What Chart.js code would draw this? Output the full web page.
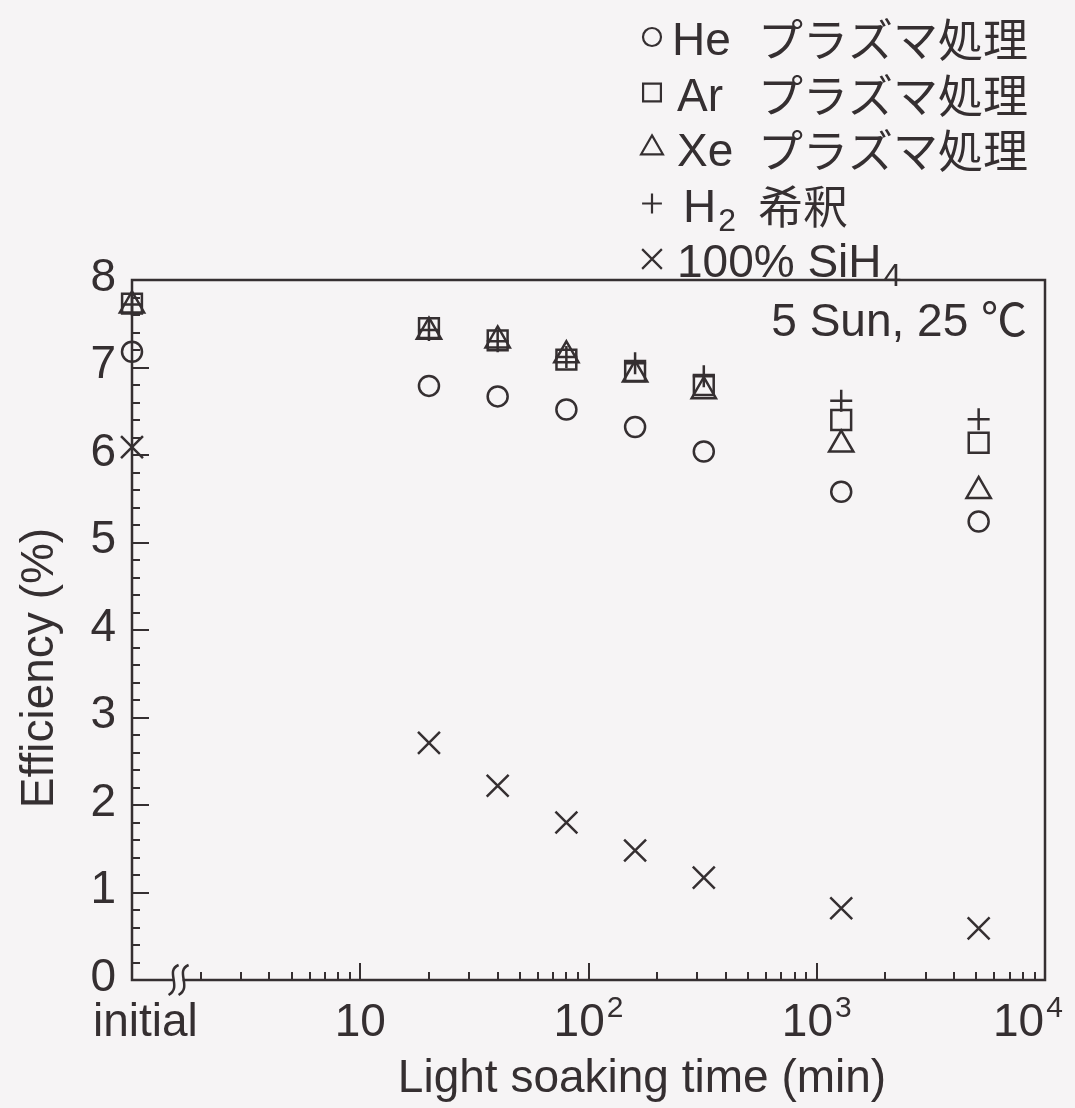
<!DOCTYPE html>
<html>
<head>
<meta charset="utf-8">
<script src="https://cdn.jsdelivr.net/npm/chart.js@4/dist/chart.umd.min.js"></script>
<style>
  html, body { margin: 0; padding: 0; background: #f6f4f5; }
  canvas { display: block; }
</style>
</head>
<body>
<canvas id="chart" width="1075" height="1108"></canvas>
<script>
//Data
// light soaking time (min); 1 stands for the "initial" point at the left end of the axis
const soakTimes = [1, 20, 40, 80, 160, 320, 1280, 5120];

const heEff   = [7.18, 6.79, 6.67, 6.52, 6.32, 6.04, 5.58, 5.24];
const arEff   = [7.73, 7.45, 7.31, 7.09, 6.96, 6.80, 6.40, 6.14];
const xeEff   = [7.71, 7.41, 7.31, 7.14, 6.92, 6.73, 6.12, 5.59];
const h2Eff   = [7.72, 7.43, 7.30, 7.12, 7.05, 6.90, 6.62, 6.41];
const sih4Eff = [6.09, 2.71, 2.22, 1.80, 1.48, 1.17, 0.82, 0.59];

const yTickLabels = ['0', '1', '2', '3', '4', '5', '6', '7', '8'];
const xTickValues = [1, 10, 100, 1000, 10000];
const xTickLabels = [['initial', ''], ['10', ''], ['10', '2'], ['10', '3'], ['10', '4']];

// legend rows: latin part, subscript, japanese part
const seriesNames = [
    ['He', '', 'プラズマ処理'],
    ['Ar', '', 'プラズマ処理'],
    ['Xe', '', 'プラズマ処理'],
    ['H', '2', '希釈'],
    ['100% SiH', '4', '']
];
const seriesStyles = ['circle', 'rect', 'triangle', 'cross', 'crossRot'];
const seriesRadius = [10, 14, 14, 11, 15.5];
const seriesValues = [heEff, arEff, xeEff, h2Eff, sih4Eff];

const conditionText = '5 Sun, 25 \u2103';
const xTitle = 'Light soaking time (min)';
const yTitle = 'Efficiency (%)';

//Style
const ink = '#352f31';
const paper = '#f6f4f5';
const latinFont = '"Liberation Sans", Arial, sans-serif';
const cjkFont = '"Noto Sans CJK JP", sans-serif';

/**
 * Draws a small marker for the legend, same shapes as the points.
 */
function drawMarker(ctx, style, r, x, y) {
    ctx.beginPath();
    if (style === 'circle') {
        ctx.arc(x, y, r, 0, Math.PI * 2);
    } else if (style === 'rect') {
        let s = r * Math.SQRT1_2;
        ctx.rect(x - s, y - s, s * 2, s * 2);
    } else if (style === 'triangle') {
        ctx.moveTo(x, y - r);
        ctx.lineTo(x + r * Math.sin(Math.PI * 2 / 3), y + r / 2);
        ctx.lineTo(x - r * Math.sin(Math.PI * 2 / 3), y + r / 2);
        ctx.closePath();
    } else if (style === 'cross') {
        ctx.moveTo(x - r, y); ctx.lineTo(x + r, y);
        ctx.moveTo(x, y - r); ctx.lineTo(x, y + r);
    } else {
        let s = r * Math.SQRT1_2;
        ctx.moveTo(x - s, y - s); ctx.lineTo(x + s, y + s);
        ctx.moveTo(x - s, y + s); ctx.lineTo(x + s, y - s);
    }
    ctx.stroke();
}

const paperPlugin = {
    id: 'paper',
    beforeDraw(chart) {
        const ctx = chart.ctx;
        ctx.save();
        ctx.fillStyle = paper;
        ctx.fillRect(0, 0, chart.width, chart.height);
        ctx.restore();
    }
};

const axesPlugin = {
    id: 'axesPlugin',
    afterDraw(chart) {
        const ctx = chart.ctx;
        const area = chart.chartArea;
        const xs = chart.scales.x;
        const ys = chart.scales.y;
        ctx.save();
        ctx.strokeStyle = ink;
        ctx.fillStyle = ink;

        // frame
        ctx.lineWidth = 2.5;
        ctx.strokeRect(area.left, area.top, area.right - area.left, area.bottom - area.top);

        // y ticks, every 0.2, pointing inward
        ctx.lineWidth = 2;
        for (let i = 0; i <= 40; i++) {
            let py = Math.round(ys.getPixelForValue(i / 5));
            let len = i % 5 === 0 ? 17 : 8;
            ctx.beginPath();
            ctx.moveTo(area.left, py);
            ctx.lineTo(area.left + len, py);
            ctx.stroke();
        }

        // x ticks, log decades
        for (let d = 0; d < 4; d++) {
            for (let m = 1; m <= 9; m++) {
                let v = m * Math.pow(10, d);
                if (v === 1) continue;
                let px = Math.round(xs.getPixelForValue(v));
                let len = m === 1 ? 17 : 8;
                ctx.beginPath();
                ctx.moveTo(px, area.bottom);
                ctx.lineTo(px, area.bottom - len);
                ctx.stroke();
            }
        }

        // axis break
        let bx = xs.getPixelForValue(1.6);
        let by = area.bottom;
        ctx.fillStyle = paper;
        ctx.fillRect(bx - 5, by - 3, 9, 6);
        ctx.lineWidth = 2.5;
        [-5, 5].forEach(off => {
            let cx = bx + off;
            ctx.beginPath();
            ctx.moveTo(cx + 5, by - 15);
            ctx.bezierCurveTo(cx - 9, by - 9, cx + 9, by + 7, cx - 5, by + 15);
            ctx.stroke();
        });
        ctx.fillStyle = ink;

        // y tick labels
        ctx.font = `46px ${latinFont}`;
        ctx.textAlign = 'right';
        ctx.textBaseline = 'middle';
        yTickLabels.forEach((lab, i) => {
            ctx.fillText(lab, area.left - 16, ys.getPixelForValue(i) - 2);
        });

        // x tick labels with superscripts
        ctx.textBaseline = 'alphabetic';
        xTickValues.forEach((v, i) => {
            let px = xs.getPixelForValue(v);
            let base = xTickLabels[i][0];
            let sup = xTickLabels[i][1];
            ctx.font = `46px ${latinFont}`;
            let wb = ctx.measureText(base).width;
            ctx.font = `30px ${latinFont}`;
            let ws = sup ? ctx.measureText(sup).width + 2 : 0;
            let x0 = px - (wb + ws) / 2;
            if (v === 1) x0 = px - 39;
            if (v === 10000) x0 = px - 52;
            ctx.textAlign = 'left';
            ctx.font = `46px ${latinFont}`;
            ctx.fillText(base, x0, 1036);
            if (sup) {
                ctx.font = `30px ${latinFont}`;
                ctx.fillText(sup, x0 + wb + 2, 1017);
            }
        });

        // axis titles
        ctx.font = `46px ${latinFont}`;
        ctx.textAlign = 'center';
        ctx.fillText(xTitle, 642, 1092);
        ctx.save();
        ctx.translate(53, 668);
        ctx.rotate(-Math.PI / 2);
        ctx.fillText(yTitle, 0, 0);
        ctx.restore();

        // condition note
        ctx.textAlign = 'right';
        ctx.font = `46px "Liberation Sans", Arial, ${cjkFont}`;
        ctx.fillText(conditionText, 1027, 336);

        // legend
        ctx.lineWidth = 2.2;
        seriesNames.forEach((row, i) => {
            let baseY = 55 + i * 55.5;
            drawMarker(ctx, seriesStyles[i], seriesRadius[i] * 0.9, 652, baseY - 18);
            ctx.textAlign = 'left';
            ctx.font = `46px ${latinFont}`;
            let tx = i === 0 ? 672 : (i === 3 ? 683 : 677);
            ctx.fillText(row[0], tx, baseY);
            let w = ctx.measureText(row[0]).width;
            if (row[1]) {
                ctx.font = `32px ${latinFont}`;
                ctx.fillText(row[1], tx + w + 2, baseY + 9);
            }
            if (row[2]) {
                ctx.font = `45px ${cjkFont}`;
                ctx.fillText(row[2], 758, baseY + 2);
            }
        });

        ctx.restore();
    }
};

const datasets = seriesNames.map((row, i) => ({
    label: row[0] + row[1] + ' ' + row[2],
    data: soakTimes.map((t, j) => ({ x: t, y: seriesValues[i][j] })),
    pointStyle: seriesStyles[i],
    pointRadius: seriesRadius[i],
    pointBorderWidth: 2.5,
    pointBorderColor: ink,
    pointBackgroundColor: 'rgba(0,0,0,0)',
    showLine: false,
    clip: false
}));

const chart = new Chart(document.getElementById('chart'), {
    type: 'scatter',
    data: { datasets: datasets },
    options: {
        responsive: false,
        animation: false,
        layout: { padding: { left: 132, top: 280, right: 30, bottom: 128 } },
        scales: {
            x: { type: 'logarithmic', min: 1, max: 10000, display: false },
            y: { type: 'linear', min: 0, max: 8, display: false }
        },
        plugins: {
            legend: { display: false },
            tooltip: { enabled: false }
        }
    },
    plugins: [paperPlugin, axesPlugin]
});
</script>
</body>
</html>
